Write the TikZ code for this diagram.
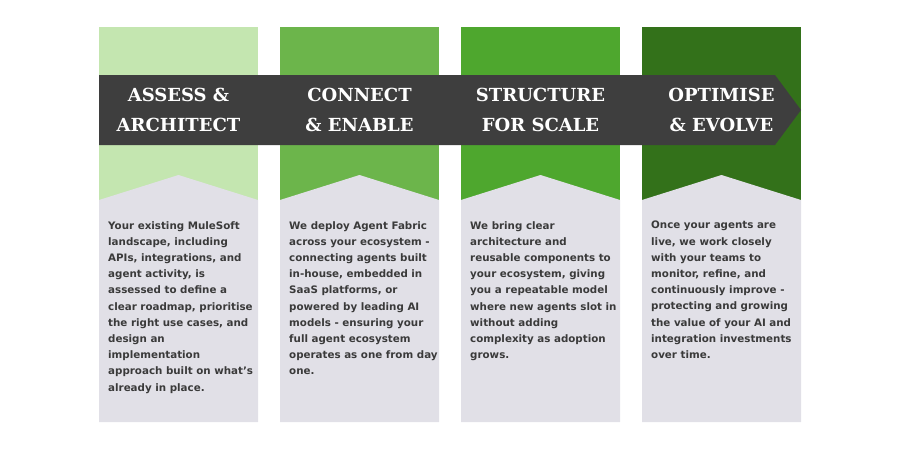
\documentclass[tikz,border=0pt]{standalone}
\usepackage{fontspec}
\setmainfont{DejaVu Sans}
\newfontfamily\headfont{DejaVu Serif}
\definecolor{stageA}{HTML}{C4E6B0}
\definecolor{stageB}{HTML}{6CB54B}
\definecolor{stageC}{HTML}{4EA72E}
\definecolor{stageD}{HTML}{33711A}
\definecolor{bandgrey}{HTML}{3E3E3E}
\definecolor{boxgrey}{HTML}{E1E0E7}
\definecolor{textgrey}{HTML}{3A3A3A}
\tikzset{
  headtext/.style={text=white, font=\headfont\bfseries\fontsize{18}{30}\selectfont, align=center},
  bodytext/.style={text=textgrey, font=\bfseries\fontsize{10.3}{16.2}\selectfont, align=left, anchor=north west, inner sep=0pt}
}
\begin{document}
\begin{tikzpicture}[x=1pt, y=-1pt]
  \useasboundingbox (0,0) rectangle (900,450);
  % columns
  \foreach \x/\c in {99/stageA, 280/stageB, 461/stageC, 642/stageD} {
    \fill[\c] (\x,27) rectangle (\x+159,200);
    \fill[boxgrey] (\x,200) -- (\x+79.5,175) -- (\x+159,200) -- (\x+159,422) -- (\x,422) -- cycle;
  }
  % dark band
  \fill[bandgrey] (99,75) -- (775,75) -- (801,110) -- (775,145) -- (99,145) -- cycle;
  \node[headtext] (assess) at (178.5,110) {ASSESS \&\\ARCHITECT};
  \node[headtext] (connect) at (359.5,110) {CONNECT\\\& ENABLE};
  \node[headtext] (structure) at (540.5,110) {STRUCTURE\\FOR SCALE};
  \node[headtext] (optimise) at (721.5,110) {OPTIMISE\\\& EVOLVE};
  % descriptions
  \node[bodytext] (assesstext) at (108,221) {Your existing MuleSoft\\landscape, including\\APIs, integrations, and\\agent activity, is\\assessed to define a\\clear roadmap, prioritise\\the right use cases, and\\design an\\implementation\\approach built on what's\\already in place.};
  \node[bodytext] (connecttext) at (289,221) {We deploy Agent Fabric\\across your ecosystem -\\connecting agents built\\in-house, embedded in\\SaaS platforms, or\\powered by leading AI\\models - ensuring your\\full agent ecosystem\\operates as one from day\\one.};
  \node[bodytext] (structuretext) at (470,221) {We bring clear\\architecture and\\reusable components to\\your ecosystem, giving\\you a repeatable model\\where new agents slot in\\without adding\\complexity as adoption\\grows.};
  \node[bodytext] (optimisetext) at (651,221) {Once your agents are\\live, we work closely\\with your teams to\\monitor, refine, and\\continuously improve -\\protecting and growing\\the value of your AI and\\integration investments\\over time.};
\end{tikzpicture}
\end{document}
